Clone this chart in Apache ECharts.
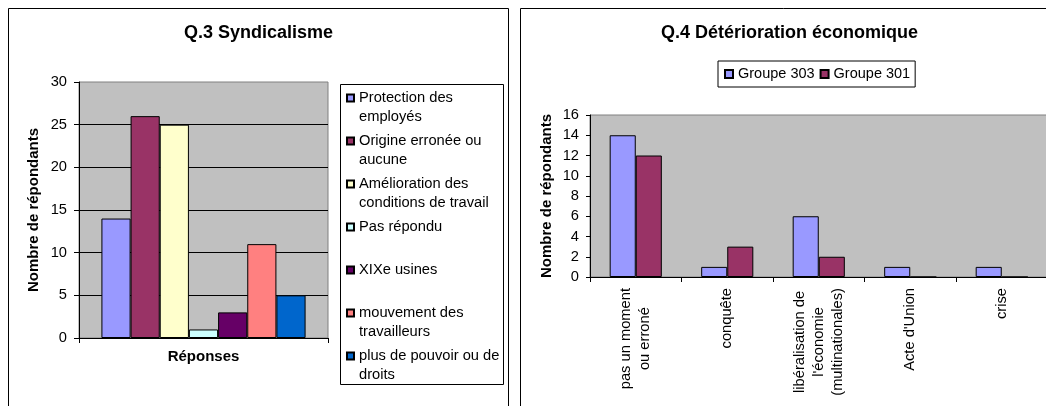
<!DOCTYPE html>
<html>
<head>
<meta charset="utf-8">
<title>Q.3 / Q.4</title>
<script src="https://cdn.jsdelivr.net/npm/echarts@6/dist/echarts.min.js"></script>
<style>
  html, body { margin: 0; padding: 0; background: #fff; }
  #chart { width: 1046px; height: 406px; }
</style>
</head>
<body>
<div id="chart"></div>
<script>
// Q.3 Syndicalisme
const q3Names = [
  "Protection des employés",
  "Origine erronée ou aucune",
  "Amélioration des conditions de travail",
  "Pas répondu",
  "XIXe usines",
  "mouvement des travailleurs",
  "plus de pouvoir ou de droits",
];
// legend text as wrapped in the picture
const q3LegendText = [
  "Protection des\nemployés",
  "Origine erronée ou\naucune",
  "Amélioration des\nconditions de travail",
  "Pas répondu\n ",
  "XIXe usines\n ",
  "mouvement des\ntravailleurs",
  "plus de pouvoir ou de\ndroits",
];
const q3Values = [14, 26, 25, 1, 3, 11, 5];
const q3Colors = ["#9999ff", "#993366", "#ffffcc", "#ccffff", "#660066", "#ff8080", "#0066cc"];

// Q.4 Détérioration économique
const q4Categories = [
  "pas un moment\nou erroné",
  "conquête",
  "libéralisation de\nl'économie\n(multinationales)",
  "Acte d'Union",
  "crise",
];
const groupe303 = [14, 1, 6, 1, 1];
const groupe301 = [12, 3, 2, 0, 0];

const FONT = "'Liberation Sans', Arial, sans-serif";
const TXT = 14.7;

const chart = echarts.init(document.getElementById("chart"));

const axisLine = { lineStyle: { color: "#000", width: 1 } };
const nameStyle = { fontFamily: FONT, fontSize: 15, fontWeight: "bold", color: "#000" };

const q3Series = q3Names.map((name, i) => ({
  type: "bar",
  name: name,
  xAxisIndex: 0,
  yAxisIndex: 0,
  data: [q3Values[i]],
  barGap: "0%",
  barCategoryGap: "18%",
  itemStyle: { color: q3Colors[i], borderColor: "#000", borderWidth: 1 },
}));

const option = {
  animation: false,
  backgroundColor: "#fff",
  textStyle: { fontFamily: FONT },
  title: [
    {
      text: "Q.3 Syndicalisme",
      left: 184,
      top: 24,
      padding: 0,
      textStyle: { fontFamily: FONT, fontSize: 18, fontWeight: "bold", color: "#000", lineHeight: 18 },
    },
    {
      text: "Q.4 Détérioration économique",
      left: 661,
      top: 24,
      padding: 0,
      textStyle: { fontFamily: FONT, fontSize: 18, fontWeight: "bold", color: "#000", lineHeight: 18 },
    },
  ],
  graphic: [
    // panel frames
    { type: "rect", shape: { x: 8.5, y: 8.5, width: 500, height: 420 }, style: { fill: "none", stroke: "#000", lineWidth: 1 } },
    { type: "rect", shape: { x: 520.5, y: 8.5, width: 540, height: 420 }, style: { fill: "none", stroke: "#000", lineWidth: 1 } },
    // frame of the Q.3 legend
    { type: "rect", shape: { x: 340.5, y: 84.5, width: 163, height: 300 }, style: { fill: "#fff", stroke: "#000", lineWidth: 1 } },
  ],
  legend: [
    {
      data: q3Names,
      orient: "vertical",
      left: 346,
      top: 69.5,
      padding: 0,
      itemWidth: 7,
      itemHeight: 7,
      itemGap: -14,
      icon: "rect",
      selectedMode: false,
      // blank first line so the square sits beside the first text line
      formatter: (name) => " \n" + q3LegendText[q3Names.indexOf(name)],
      textStyle: { fontFamily: FONT, fontSize: TXT, color: "#000", lineHeight: 19 },
    },
    {
      data: ["Groupe 303", "Groupe 301"],
      orient: "horizontal",
      left: 718,
      top: 61,
      padding: [5, 5, 5, 6],
      borderColor: "#000",
      borderWidth: 1,
      backgroundColor: "#fff",
      itemWidth: 8,
      itemHeight: 8,
      itemGap: 5,
      icon: "rect",
      selectedMode: false,
      textStyle: { fontFamily: FONT, fontSize: 14.5, color: "#000", lineHeight: 16 },
    },
  ],
  grid: [
    {
      left: 79, top: 82, width: 249, height: 256,
      show: true, backgroundColor: "#c0c0c0", borderColor: "#808080", borderWidth: 1,
      outerBoundsMode: "none",
    },
    {
      left: 590, top: 115, width: 457.5, height: 162,
      show: true, backgroundColor: "#c0c0c0", borderColor: "#808080", borderWidth: 1,
      outerBoundsMode: "none",
    },
  ],
  xAxis: [
    {
      gridIndex: 0,
      type: "category",
      data: [""],
      axisLine: axisLine,
      axisTick: { show: true, length: 5, lineStyle: { color: "#000" } },
      axisLabel: { show: false },
      name: "Réponses",
      nameLocation: "middle",
      nameGap: 11,
      nameTextStyle: nameStyle,
    },
    {
      gridIndex: 1,
      type: "category",
      data: q4Categories,
      axisLine: axisLine,
      axisTick: { show: true, length: 5, lineStyle: { color: "#000" } },
      axisLabel: {
        interval: 0,
        rotate: 90,
        margin: 11,
        color: "#000",
        fontFamily: FONT,
        fontSize: TXT,
        formatter: (v) => v.split("\n").map((l) => "{c|" + l + "}").join("\n"),
        rich: { c: { align: "center", fontFamily: FONT, fontSize: TXT, lineHeight: 19, color: "#000" } },
      },
    },
  ],
  yAxis: [
    {
      gridIndex: 0,
      type: "value",
      min: 0,
      max: 30,
      interval: 5,
      axisLine: { show: true, lineStyle: { color: "#000" } },
      axisTick: { show: true, length: 5, lineStyle: { color: "#000" } },
      axisLabel: { margin: 12, color: "#000", fontFamily: FONT, fontSize: TXT },
      splitLine: { show: true, showMaxLine: false, lineStyle: { color: "#000", width: 1 } },
      name: "Nombre de répondants",
      nameLocation: "middle",
      nameGap: 38,
      nameTextStyle: nameStyle,
    },
    {
      gridIndex: 1,
      type: "value",
      min: 0,
      max: 16,
      interval: 2,
      axisLine: { show: true, lineStyle: { color: "#000" } },
      axisTick: { show: true, length: 4, lineStyle: { color: "#000" } },
      axisLabel: { margin: 11, color: "#000", fontFamily: FONT, fontSize: TXT },
      splitLine: { show: false },
      name: "Nombre de répondants",
      nameLocation: "middle",
      nameGap: 36,
      nameTextStyle: nameStyle,
    },
  ],
  series: q3Series.concat([
    {
      type: "bar",
      name: "Groupe 303",
      xAxisIndex: 1,
      yAxisIndex: 1,
      data: groupe303,
      barGap: "0%",
      barCategoryGap: "43%",
      itemStyle: { color: "#9999ff", borderColor: "#000", borderWidth: 1 },
    },
    {
      type: "bar",
      name: "Groupe 301",
      xAxisIndex: 1,
      yAxisIndex: 1,
      data: groupe301,
      barGap: "0%",
      barCategoryGap: "43%",
      itemStyle: { color: "#993366", borderColor: "#000", borderWidth: 1 },
    },
  ]),
};

chart.setOption(option);
</script>
</body>
</html>
